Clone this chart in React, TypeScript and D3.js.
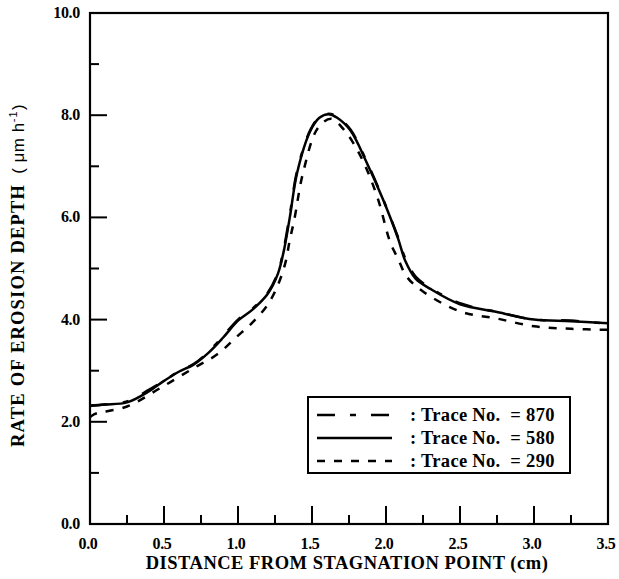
import React from "react";
import * as d3 from "d3";

const xTicksMajor = [0, 0.5, 1.0, 1.5, 2.0, 2.5, 3.0, 3.5];
const xTicksMinor = [0.25, 0.75, 1.25, 1.75, 2.25, 2.75, 3.25];
const yTicksMajor = [0, 2, 4, 6, 8, 10];
const yTicksMinor = [1, 3, 5, 7, 9];

const trace870: [number, number][] = [
  [0, 2.31], [0.1, 2.34], [0.25, 2.4], [0.4, 2.63], [0.5, 2.8], [0.6, 2.99], [0.7, 3.13],
  [0.8, 3.37], [0.9, 3.68], [1.0, 4.0], [1.1, 4.22], [1.2, 4.52], [1.27, 4.92], [1.31, 5.4], [1.35, 6.05],
  [1.4, 6.92], [1.49, 7.72], [1.55, 7.96], [1.61, 8.03], [1.67, 7.97], [1.76, 7.72], [1.87, 7.09],
  [1.98, 6.36], [2.08, 5.62], [2.13, 5.2], [2.2, 4.84], [2.3, 4.62], [2.5, 4.32], [2.75, 4.15],
  [3.0, 4.0], [3.25, 3.98], [3.5, 3.92],
];
const trace580: [number, number][] = [
  [0, 2.32], [0.1, 2.34], [0.25, 2.38], [0.4, 2.6], [0.5, 2.8], [0.6, 2.98], [0.7, 3.12],
  [0.8, 3.35], [0.9, 3.65], [1.0, 3.98], [1.1, 4.2], [1.2, 4.5], [1.27, 4.9], [1.31, 5.35], [1.35, 6.0],
  [1.4, 6.88], [1.49, 7.7], [1.55, 7.95], [1.61, 8.02], [1.67, 7.95], [1.76, 7.7], [1.87, 7.07],
  [1.98, 6.35], [2.08, 5.6], [2.13, 5.15], [2.2, 4.8], [2.3, 4.6], [2.5, 4.3], [2.75, 4.15],
  [3.0, 4.0], [3.25, 3.97], [3.5, 3.93],
];
const trace290: [number, number][] = [
  [0, 2.09], [0.03, 2.15], [0.25, 2.3], [0.48, 2.67], [0.7, 3.05], [0.86, 3.32], [0.99, 3.66],
  [1.1, 3.95], [1.2, 4.29], [1.27, 4.68], [1.32, 5.11], [1.35, 5.56], [1.38, 5.95], [1.44, 6.88],
  [1.54, 7.75], [1.63, 7.93], [1.72, 7.7], [1.83, 7.19], [1.94, 6.41], [2.03, 5.5], [2.08, 5.2],
  [2.14, 4.84], [2.25, 4.55], [2.5, 4.16], [2.75, 4.02], [3.0, 3.87], [3.25, 3.82], [3.5, 3.8],
];

const legendLabels = [": Trace No.  = 870", ": Trace No.  = 580", ": Trace No.  = 290"];
const dashes = ["18,15,6,15", "none", "8,9"];

export default function App() {
  const left = 90, right = 608, top = 13, bottom = 524;
  const x = d3.scaleLinear().domain([0, 3.5]).range([left, right]);
  const y = d3.scaleLinear().domain([0, 10]).range([bottom, top]);
  const line = d3
    .line<[number, number]>()
    .x((d) => x(d[0]))
    .y((d) => y(d[1]))
    .curve(d3.curveCatmullRom.alpha(0.5));
  const serif = "'Liberation Serif', 'Times New Roman', serif";
  const sans = "'Liberation Sans', Arial, sans-serif";
  const traces = [trace870, trace580, trace290];
  const lx = 308, ly = 397, lw = 262, lh = 76;
  return (
    <svg width={619} height={579} style={{ position: "absolute", left: 0, top: 0 }}>
      <rect x={0} y={0} width={619} height={579} fill="#fff" />
      {traces.map((t, i) => (
        <path
          key={i}
          d={line(t) || ""}
          fill="none"
          stroke="#000"
          strokeWidth={2.5}
          strokeDasharray={dashes[i]}
        />
      ))}
      <rect x={left} y={top} width={right - left} height={bottom - top} fill="none" stroke="#000" strokeWidth={2.2} />
      {xTicksMajor.map((t) => (
        <line key={"xM" + t} x1={x(t)} x2={x(t)} y1={bottom} y2={bottom - 18} stroke="#000" strokeWidth={2} />
      ))}
      {xTicksMinor.map((t) => (
        <line key={"xm" + t} x1={x(t)} x2={x(t)} y1={bottom} y2={bottom - 9} stroke="#000" strokeWidth={2} />
      ))}
      {yTicksMajor.map((t) => (
        <line key={"yM" + t} x1={left} x2={left + 17} y1={y(t)} y2={y(t)} stroke="#000" strokeWidth={2} />
      ))}
      {yTicksMinor.map((t) => (
        <line key={"ym" + t} x1={left} x2={left + 9} y1={y(t)} y2={y(t)} stroke="#000" strokeWidth={2} />
      ))}
      {xTicksMajor.map((t) => (
        <text key={"xl" + t} x={x(t) - 2} y={549} textAnchor="middle" fontFamily={serif} fontWeight="bold" fontSize={16} letterSpacing={-0.3}>
          {t.toFixed(1)}
        </text>
      ))}
      {yTicksMajor.map((t) => (
        <text key={"yl" + t} x={80} y={y(t) + 5} textAnchor="end" fontFamily={serif} fontWeight="bold" fontSize={16} letterSpacing={-0.3}>
          {t.toFixed(1)}
        </text>
      ))}
      <text x={347} y={569} textAnchor="middle" fontFamily={serif} fontWeight="bold" fontSize={18.5} letterSpacing={0.5}>
        DISTANCE FROM STAGNATION POINT (cm)
      </text>
      <text transform="translate(24,447) rotate(-90)" fontFamily={serif} fontWeight="bold" fontSize={18.5} letterSpacing={1.2}>
        RATE OF EROSION DEPTH
        <tspan fontFamily={sans} fontWeight="normal" fontSize={17} letterSpacing={0.5} dx={10}>
          ( μm h
        </tspan>
        <tspan fontFamily={sans} fontWeight="normal" fontSize={11} dy={-7}>
          -1
        </tspan>
        <tspan fontFamily={sans} fontWeight="normal" fontSize={17} dy={7}>
          )
        </tspan>
      </text>
      <rect x={lx} y={ly} width={lw} height={lh} fill="#fff" stroke="#000" strokeWidth={2} />
      {legendLabels.map((lab, i) => {
        const yy = ly + 18 + i * 23;
        return (
          <g key={lab}>
            <line x1={317} x2={392} y1={yy} y2={yy} stroke="#000" strokeWidth={2.5} strokeDasharray={dashes[i]} />
            <text x={410} y={yy + 6} fontFamily={serif} fontWeight="bold" fontSize={18.5} letterSpacing={0.3} style={{ whiteSpace: "pre" }}>
              {lab}
            </text>
          </g>
        );
      })}
    </svg>
  );
}
